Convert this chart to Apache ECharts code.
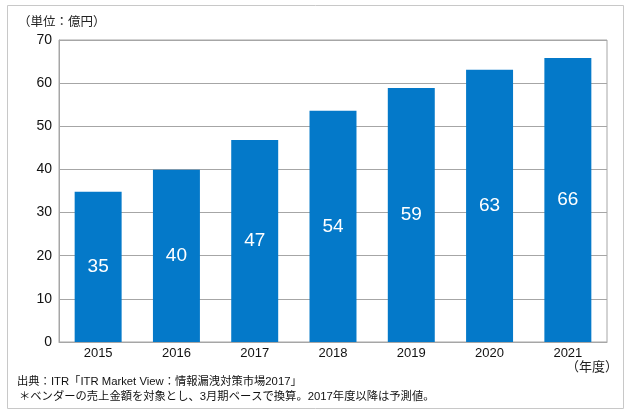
<!DOCTYPE html>
<html><head><meta charset="utf-8">
<script src="https://cdn.jsdelivr.net/npm/echarts@6/dist/echarts.min.js"></script>
<style>html,body{margin:0;padding:0;background:#fff}#c{width:631px;height:415px}</style>
</head><body><div id="c"></div>
<script>
const categories = ['2015','2016','2017','2018','2019','2020','2021'];
const values = [34.8, 39.9, 46.8, 53.6, 58.9, 63.1, 65.8];
const yTicks = [0,10,20,30,40,50,60,70];
const unitLabel = '（単位：億円）';
const yearLabel = '（年度）';
const note1 = '出典：ITR「ITR Market View：情報漏洩対策市場2017」';
const note2 = '＊ベンダーの売上金額を対象とし、3月期ベースで換算。2017年度以降は予測値。';

const FF = '"Liberation Sans", Arial, "Noto Sans CJK JP", sans-serif';
const chart = echarts.init(document.getElementById('c'), null, {renderer:'canvas'});
chart.setOption({
  backgroundColor:'#fff',
  animation:false,
  grid:{left:59, right:24, top:40, bottom:73, show:true, borderColor:'#a6a6a6', borderWidth:1, backgroundColor:'transparent'},
  title:{text:unitLabel, left:13, top:11, textStyle:{fontFamily:FF, fontSize:12.5, fontWeight:'normal', color:'#222'}},
  xAxis:{type:'category', data:categories,
    axisLine:{lineStyle:{color:'#a6a6a6'}}, axisTick:{show:false},
    axisLabel:{fontFamily:FF, fontSize:13, color:'#111', margin:5}},
  yAxis:{type:'value', min:0, max:70, interval:10,
    axisLine:{show:true, lineStyle:{color:'#a6a6a6'}}, axisTick:{show:false},
    splitLine:{lineStyle:{color:'#a6a6a6'}},
    axisLabel:{fontFamily:FF, fontSize:14, color:'#111', margin:7,
      formatter:v=>yTicks.includes(v)?String(v):''}},
  series:[{type:'bar', data:values, barWidth:'60%',
    itemStyle:{color:'#0479C9'},
    label:{show:true, position:'inside', color:'#fff', fontFamily:FF, fontSize:19,
      formatter:p=>String(Math.round(p.value))}}],
  graphic:[
    {type:'rect', shape:{x:7.5,y:5.5,width:616,height:403}, style:{fill:'none', stroke:'#c8c8c8', lineWidth:1}, silent:true, z:-1},
    {type:'text', right:13, top:361, style:{text:yearLabel, font:'13px '+FF, fill:'#222'}},
    {type:'text', left:17, top:376, style:{text:note1, font:'11.3px '+FF, fill:'#111'}},
    {type:'text', left:19, top:391, style:{text:note2, font:'11.3px '+FF, fill:'#111'}}
  ]
});
</script></body></html>
